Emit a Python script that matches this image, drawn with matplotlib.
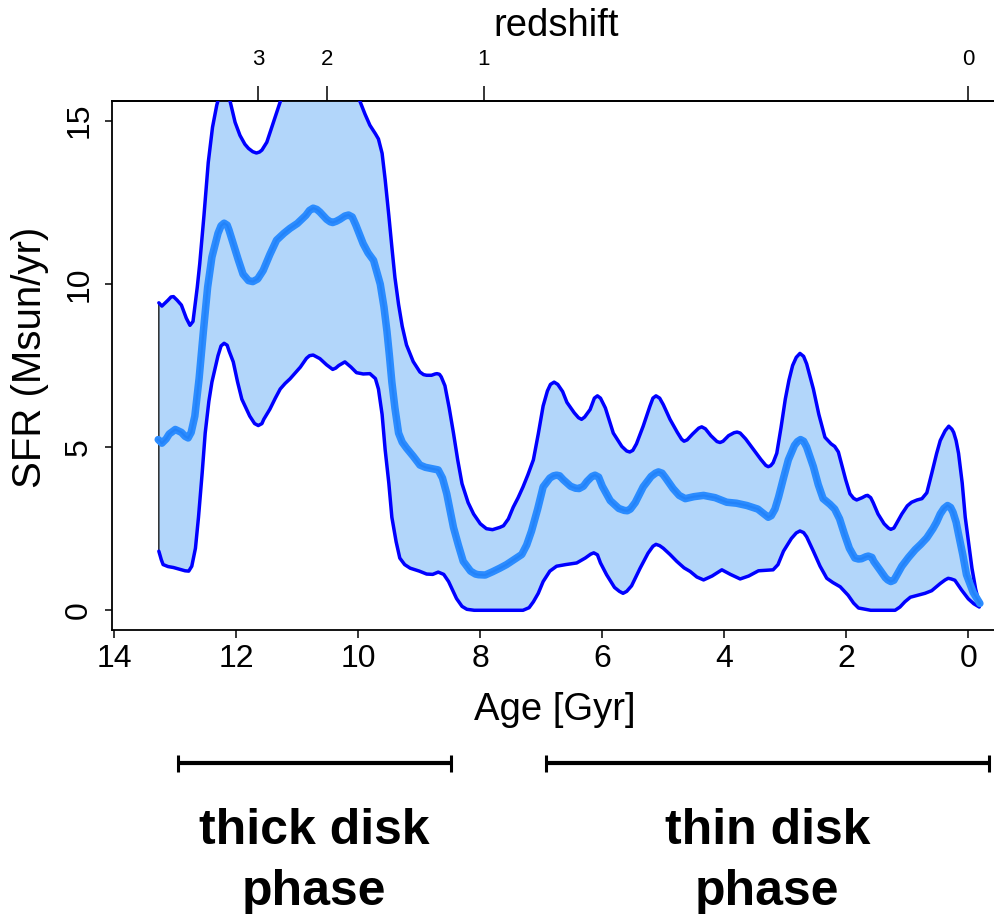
import matplotlib
matplotlib.use("Agg")
import matplotlib.pyplot as plt
import matplotlib.transforms as mtransforms

plt.rcParams["font.family"] = ["Liberation Sans", "DejaVu Sans"]

# Upper envelope of the star formation history (age in Gyr, SFR in Msun/yr)
upper_age = [13.27, 13.22, 13.12, 13.07, 13.03, 12.97, 12.90, 12.82, 12.76, 12.71, 12.68,
             12.64, 12.60, 12.53, 12.46, 12.39, 12.32, 12.20, 12.10, 12.02, 11.94,
             11.86, 11.80, 11.73, 11.67, 11.62, 11.58, 11.50, 11.40, 11.28, 11.10,
             10.80, 10.50, 10.20, 9.97, 9.89, 9.81, 9.72, 9.67, 9.61, 9.56, 9.50,
             9.45, 9.40, 9.34, 9.28, 9.21, 9.10, 8.99, 8.93, 8.88, 8.80, 8.74, 8.71,
             8.67, 8.64, 8.58, 8.51, 8.44, 8.37, 8.30, 8.20, 8.11, 8.00, 7.90, 7.80,
             7.68, 7.62, 7.54, 7.46, 7.38, 7.30, 7.22, 7.13, 7.05, 6.97, 6.90, 6.85,
             6.79, 6.73, 6.65, 6.58, 6.46, 6.39, 6.34, 6.29, 6.20, 6.13, 6.08, 6.03,
             5.95, 5.82, 5.68, 5.60, 5.55, 5.50, 5.44, 5.33, 5.22, 5.17, 5.12, 5.06,
             5.00, 4.89, 4.77, 4.70, 4.66, 4.61, 4.52, 4.42, 4.37, 4.31, 4.22, 4.12,
             4.07, 4.02, 3.93, 3.84, 3.79, 3.74, 3.65, 3.52, 3.40, 3.32, 3.28, 3.24,
             3.20, 3.14, 3.07, 3.00, 2.94, 2.88, 2.82, 2.76, 2.70, 2.65, 2.60, 2.54,
             2.45, 2.35, 2.25, 2.19, 2.13, 2.08, 2.01, 1.94, 1.88, 1.83, 1.74, 1.68,
             1.65, 1.60, 1.56, 1.48, 1.38, 1.31, 1.27, 1.22, 1.18, 1.09, 1.00, 0.93,
             0.84, 0.76, 0.68, 0.60, 0.52, 0.46, 0.38, 0.32, 0.27, 0.24, 0.20, 0.16,
             0.10, 0.05, -0.01, -0.06, -0.12, -0.18]
upper_sfr = [9.42, 9.32, 9.50, 9.60, 9.61, 9.50, 9.35, 8.95, 8.73, 8.85, 9.30, 9.90,
             10.61, 12.10, 13.72, 14.80, 15.48, 16.30, 15.58, 14.95, 14.55, 14.28,
             14.15, 14.05, 14.01, 14.04, 14.10, 14.34, 14.90, 15.58, 16.40, 16.90,
             16.90, 16.60, 15.58, 15.20, 14.86, 14.60, 14.44, 14.00, 13.20, 12.10,
             11.13, 10.20, 9.37, 8.70, 8.13, 7.62, 7.30, 7.22, 7.20, 7.20, 7.24, 7.25,
             7.23, 7.15, 6.88, 6.20, 5.43, 4.60, 3.88, 3.30, 2.95, 2.65, 2.50, 2.47,
             2.54, 2.59, 2.80, 3.16, 3.45, 3.78, 4.15, 4.61, 5.40, 6.26, 6.72, 6.92,
             6.99, 6.92, 6.70, 6.37, 6.05, 5.90, 5.85, 5.92, 6.15, 6.50, 6.57, 6.50,
             6.20, 5.43, 5.02, 4.88, 4.85, 4.90, 5.10, 5.64, 6.25, 6.50, 6.57, 6.50,
             6.30, 5.85, 5.45, 5.24, 5.18, 5.22, 5.40, 5.58, 5.62, 5.56, 5.35, 5.17,
             5.14, 5.18, 5.35, 5.44, 5.46, 5.43, 5.25, 4.92, 4.62, 4.44, 4.40, 4.43,
             4.52, 4.81, 5.60, 6.47, 7.05, 7.50, 7.75, 7.87, 7.78, 7.55, 7.20, 6.78,
             6.00, 5.30, 5.10, 5.02, 4.85, 4.50, 4.00, 3.57, 3.43, 3.38, 3.45, 3.51,
             3.52, 3.45, 3.30, 2.95, 2.65, 2.52, 2.48, 2.52, 2.65, 2.95, 3.20, 3.31,
             3.38, 3.42, 3.60, 4.19, 4.80, 5.20, 5.50, 5.64, 5.55, 5.45, 5.20, 4.81,
             3.90, 2.85, 2.00, 1.29, 0.65, 0.20]

# Median star formation history
median_age = [13.28, 13.22, 13.15, 13.10, 13.00, 12.90, 12.84, 12.79, 12.74, 12.68,
              12.61, 12.54, 12.47, 12.40, 12.30, 12.25, 12.20, 12.15, 12.12, 12.05,
              11.97, 11.89, 11.80, 11.73, 11.65, 11.56, 11.45, 11.34, 11.22, 11.12,
              11.00, 10.86, 10.80, 10.74, 10.68, 10.63, 10.52, 10.46, 10.42, 10.36,
              10.30, 10.22, 10.16, 10.10, 10.04, 9.92, 9.84, 9.75, 9.64, 9.58, 9.53,
              9.49, 9.45, 9.40, 9.34, 9.28, 9.21, 9.10, 8.99, 8.90, 8.82, 8.69, 8.62,
              8.55, 8.49, 8.44, 8.36, 8.28, 8.16, 8.08, 8.03, 7.92, 7.80, 7.68, 7.57,
              7.45, 7.32, 7.24, 7.16, 7.06, 6.97, 6.86, 6.80, 6.75, 6.70, 6.64, 6.52,
              6.44, 6.38, 6.31, 6.25, 6.17, 6.12, 6.06, 6.00, 5.87, 5.73, 5.64, 5.59,
              5.54, 5.46, 5.33, 5.20, 5.13, 5.08, 5.02, 4.96, 4.84, 4.74, 4.64, 4.50,
              4.34, 4.15, 3.96, 3.80, 3.63, 3.45, 3.34, 3.28, 3.23, 3.17, 3.11, 3.03,
              2.95, 2.85, 2.80, 2.75, 2.70, 2.65, 2.54, 2.46, 2.38, 2.27, 2.19, 2.11,
              2.03, 1.95, 1.86, 1.80, 1.75, 1.68, 1.64, 1.58, 1.55, 1.45, 1.36, 1.32,
              1.27, 1.22, 1.18, 1.09, 0.98, 0.87, 0.78, 0.68, 0.58, 0.52, 0.46, 0.40,
              0.34, 0.29, 0.25, 0.20, 0.16, 0.09, 0.03, -0.08, -0.19]
median_sfr = [5.23, 5.12, 5.25, 5.40, 5.54, 5.45, 5.33, 5.28, 5.45, 5.95, 7.10, 8.54,
              9.90, 10.82, 11.55, 11.78, 11.86, 11.80, 11.65, 11.23, 10.75, 10.30,
              10.10, 10.07, 10.15, 10.41, 10.90, 11.34, 11.55, 11.70, 11.85, 12.10,
              12.25, 12.32, 12.28, 12.20, 11.98, 11.90, 11.88, 11.92, 11.98, 12.08,
              12.11, 12.05, 11.80, 11.23, 10.95, 10.72, 9.99, 9.30, 8.54, 7.80, 6.99,
              6.20, 5.43, 5.15, 4.97, 4.72, 4.45, 4.38, 4.35, 4.30, 4.05, 3.57, 3.00,
              2.54, 2.00, 1.50, 1.20, 1.11, 1.09, 1.08, 1.18, 1.29, 1.40, 1.55, 1.71,
              2.00, 2.43, 3.10, 3.78, 4.05, 4.12, 4.14, 4.12, 4.00, 3.80, 3.74, 3.73,
              3.80, 3.95, 4.10, 4.14, 4.08, 3.80, 3.36, 3.12, 3.06, 3.05, 3.10, 3.30,
              3.78, 4.10, 4.20, 4.24, 4.20, 4.05, 3.73, 3.52, 3.42, 3.48, 3.52, 3.45,
              3.31, 3.28, 3.21, 3.10, 2.94, 2.85, 2.90, 3.10, 3.47, 4.05, 4.61, 5.05,
              5.17, 5.23, 5.18, 5.00, 4.40, 3.85, 3.42, 3.25, 3.10, 2.80, 2.33, 1.90,
              1.60, 1.57, 1.58, 1.64, 1.66, 1.62, 1.50, 1.24, 1.00, 0.93, 0.88, 0.92,
              1.05, 1.35, 1.62, 1.86, 2.02, 2.22, 2.50, 2.70, 2.95, 3.12, 3.21, 3.15,
              3.00, 2.70, 2.33, 1.70, 1.09, 0.55, 0.21]

# Lower envelope
lower_age = [13.27, 13.23, 13.20, 13.12, 13.03, 12.84, 12.78, 12.73, 12.67, 12.62,
             12.56, 12.51, 12.45, 12.40, 12.30, 12.25, 12.20, 12.15, 12.12, 12.05,
             11.98, 11.91, 11.78, 11.70, 11.64, 11.58, 11.55, 11.45, 11.36, 11.28,
             11.20, 11.12, 10.95, 10.85, 10.80, 10.74, 10.63, 10.52, 10.42, 10.37,
             10.32, 10.22, 10.12, 10.03, 9.92, 9.81, 9.72, 9.67, 9.61, 9.56, 9.50,
             9.45, 9.38, 9.32, 9.24, 9.15, 9.00, 8.88, 8.78, 8.69, 8.60, 8.52, 8.45,
             8.39, 8.30, 8.22, 8.10, 8.00, 7.60, 7.30, 7.20, 7.13, 7.05, 6.97, 6.86,
             6.75, 6.60, 6.42, 6.28, 6.19, 6.14, 6.08, 6.03, 5.93, 5.80, 5.72, 5.66,
             5.60, 5.52, 5.38, 5.25, 5.17, 5.12, 5.06, 5.00, 4.89, 4.78, 4.66, 4.56,
             4.45, 4.34, 4.20, 4.04, 3.90, 3.74, 3.60, 3.44, 3.20, 3.12, 3.03, 2.90,
             2.82, 2.76, 2.70, 2.65, 2.54, 2.43, 2.32, 2.22, 2.10, 1.97, 1.88, 1.80,
             1.60, 1.40, 1.20, 1.12, 1.04, 0.95, 0.87, 0.71, 0.60, 0.46, 0.38, 0.33,
             0.28, 0.22, 0.11, 0.00, -0.09, -0.18]
lower_sfr = [1.81, 1.55, 1.40, 1.34, 1.31, 1.21, 1.20, 1.35, 1.90, 2.85, 4.20, 5.43,
             6.40, 6.99, 7.80, 8.10, 8.18, 8.12, 7.95, 7.61, 7.00, 6.47, 5.95, 5.72,
             5.66, 5.72, 5.85, 6.16, 6.50, 6.78, 6.95, 7.09, 7.45, 7.72, 7.80, 7.82,
             7.71, 7.52, 7.38, 7.42, 7.50, 7.61, 7.45, 7.28, 7.24, 7.25, 7.10, 6.78,
             6.00, 4.92, 3.90, 2.85, 2.10, 1.60, 1.40, 1.29, 1.20, 1.11, 1.10, 1.17,
             1.10, 0.88, 0.60, 0.36, 0.12, 0.03, 0.0, 0.0, 0.0, 0.0, 0.08, 0.26, 0.52,
             0.88, 1.20, 1.35, 1.40, 1.45, 1.60, 1.72, 1.76, 1.70, 1.45, 1.09, 0.70,
             0.58, 0.52, 0.58, 0.75, 1.29, 1.75, 1.96, 2.02, 1.98, 1.90, 1.71, 1.50,
             1.30, 1.19, 1.02, 0.93, 1.05, 1.24, 1.10, 0.96, 1.05, 1.21, 1.24, 1.40,
             1.81, 2.20, 2.37, 2.43, 2.38, 2.25, 1.81, 1.35, 0.98, 0.85, 0.72, 0.46,
             0.22, 0.07, 0.0, 0.0, 0.0, 0.10, 0.26, 0.40, 0.44, 0.52, 0.60, 0.82, 0.93,
             0.98, 0.96, 0.92, 0.62, 0.35, 0.20, 0.10]

# Secondary axis: redshift at the corresponding lookback times
redshift_labels = ["3", "2", "1", "0"]
redshift_ages = [11.64, 10.51, 7.94, 0.0]

age_ticks = [14, 12, 10, 8, 6, 4, 2, 0]
sfr_ticks = [0, 5, 10, 15]

# Galactic disk phases (start and end age in Gyr)
phase_names = ["thick disk", "thin disk"]
phase_start = [12.96, 6.93]
phase_end = [8.48, -0.34]

W, H = 995, 914
fig = plt.figure(figsize=(W / 100, H / 100), dpi=100)
ax = fig.add_axes([112.3 / W, (H - 630) / H, (997 - 112.3) / W, (630 - 101) / H])

fill_col = "#b2d6fa"
poly_x = list(upper_age) + list(reversed(lower_age))
poly_y = list(upper_sfr) + list(reversed(lower_sfr))
ax.fill(poly_x, poly_y, facecolor=fill_col, edgecolor="black", linewidth=0.9, zorder=1)
line_kw = dict(solid_capstyle="round", solid_joinstyle="round")
ax.plot(upper_age, upper_sfr, color="#0000ff", lw=2.5, zorder=3, **line_kw)
ax.plot(lower_age, lower_sfr, color="#0000ff", lw=2.5, zorder=3, **line_kw)
ax.plot(median_age, median_sfr, color="#2b8cff", lw=5.4, zorder=4, **line_kw)
ax.plot(median_age, median_sfr, color="#1e7cf5", lw=1.6, zorder=5, alpha=0.6, **line_kw)

ax.set_xlim(14.033, 14 - (997 - 114.3) / 61)
ax.set_ylim(-0.604, 15.603)

for s in ["left", "bottom", "top"]:
    ax.spines[s].set_linewidth(1.3)
ax.spines["right"].set_visible(False)

ax.set_xticks(age_ticks)
ax.set_xticklabels([str(a) for a in age_ticks], fontsize=23)
ax.set_yticks(sfr_ticks)
ax.set_yticklabels([str(v) for v in sfr_ticks], fontsize=23, rotation=90, va="center")
ax.tick_params(axis="x", direction="out", length=6, width=1.1, pad=4)
ax.tick_params(axis="y", direction="out", length=5, width=1.1, pad=8)

top = ax.secondary_xaxis("top")
top.set_xticks(redshift_ages)
top.set_xticklabels(redshift_labels, fontsize=16)
top.tick_params(direction="out", length=10.5, width=1.1, pad=12)
top.spines["top"].set_linewidth(1.3)

fig.text(556 / W, (H - 36) / H, "redshift", fontsize=27.5, ha="center", va="baseline")
fig.text(555 / W, (H - 720) / H, "Age [Gyr]", fontsize=27.5, ha="center", va="baseline")
fig.text(41 / W, (H - 357) / H, "SFR (Msun/yr)", fontsize=29, ha="center", va="baseline",
         rotation=90, rotation_mode="anchor")

# Phase bars under the age axis
trans = mtransforms.blended_transform_factory(ax.transData, fig.transFigure)
bar_y = (H - 763) / H
cap = 8.5 / H
for name, a0, a1 in zip(phase_names, phase_start, phase_end):
    ax.plot([a0, a1], [bar_y, bar_y], color="black", lw=3, transform=trans, clip_on=False,
            solid_capstyle="butt")
    for a in (a0, a1):
        ax.plot([a, a], [bar_y - cap, bar_y + cap], color="black", lw=2.2, transform=trans,
                clip_on=False, solid_capstyle="butt")
    mid = (a0 + a1) / 2
    ax.text(mid, (H - 844) / H, name, transform=trans, ha="center", va="baseline",
            fontsize=36, fontweight="bold")
    ax.text(mid, (H - 905) / H, "phase", transform=trans, ha="center", va="baseline",
            fontsize=36, fontweight="bold")

fig.savefig("out.png", dpi=100)
